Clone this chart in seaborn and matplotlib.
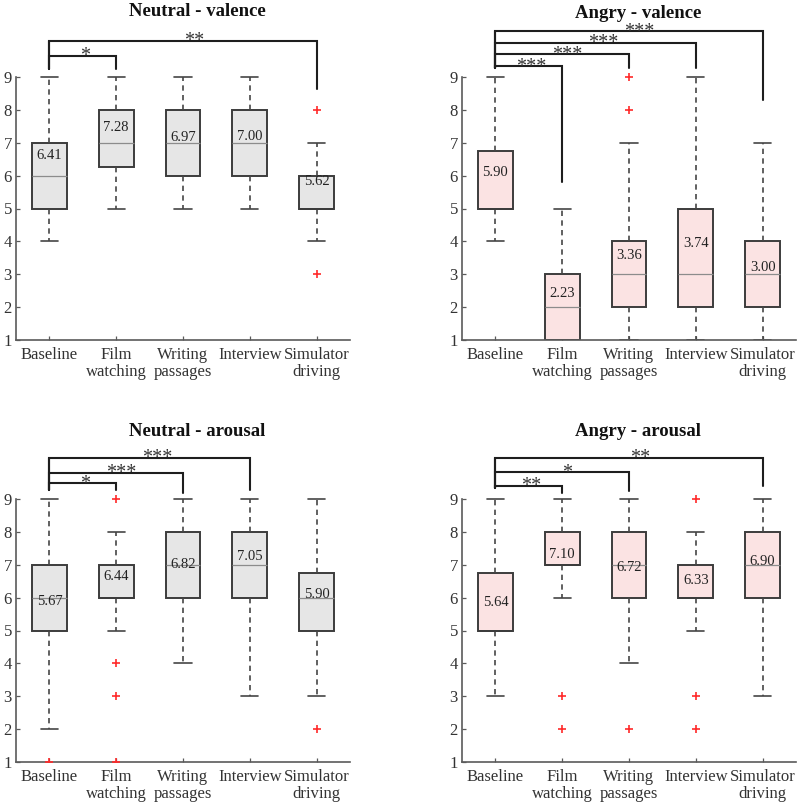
import numpy as np
import pandas as pd
import matplotlib
matplotlib.use("Agg")
import matplotlib.pyplot as plt
import seaborn as sns

# ---------------- data ----------------
categories = ["Baseline", "Film\nwatching", "Writing\npassages", "Interview", "Simulator\ndriving"]

# Neutral - valence
nv_lo = [4, 5, 5, 5, 4]
nv_q1 = [5, 6.25, 6, 6, 5]
nv_med = [6, 7, 7, 7, 5]
nv_q3 = [7, 8, 8, 8, 6]
nv_hi = [9, 9, 9, 9, 7]
nv_mean = [6.41, 7.28, 6.97, 7.00, 5.62]
nv_fliers = [[], [], [], [], [8, 3]]

# Angry - valence
av_lo = [4, 1, 1, 1, 1]
av_q1 = [5, 1, 2, 2, 2]
av_med = [5, 2, 3, 3, 3]
av_q3 = [6.75, 3, 4, 5, 4]
av_hi = [9, 5, 7, 9, 7]
av_mean = [5.90, 2.23, 3.36, 3.74, 3.00]
av_fliers = [[], [], [9, 8], [], []]

# Neutral - arousal
na_lo = [2, 5, 4, 3, 3]
na_q1 = [5, 6, 6, 6, 5]
na_med = [6, 6, 7, 7, 6]
na_q3 = [7, 7, 8, 8, 6.75]
na_hi = [9, 8, 9, 9, 9]
na_mean = [5.67, 6.44, 6.82, 7.05, 5.90]
na_fliers = [[1], [9, 4, 3, 1], [], [], [2]]

# Angry - arousal
aa_lo = [3, 6, 4, 5, 3]
aa_q1 = [5, 7, 6, 6, 6]
aa_med = [5, 7, 7, 6, 7]
aa_q3 = [6.75, 8, 8, 7, 8]
aa_hi = [9, 9, 9, 8, 9]
aa_mean = [5.64, 7.10, 6.72, 6.33, 6.90]
aa_fliers = [[], [3, 2], [2], [9, 3, 2], []]

# significance comparisons (Baseline vs target)
nv_sig_target = [1, 4]
nv_sig_label = ["*", "**"]
av_sig_target = [1, 2, 3, 4]
av_sig_label = ["***", "***", "***", "***"]
na_sig_target = [1, 2, 3]
na_sig_label = ["*", "***", "***"]
aa_sig_target = [1, 2, 4]
aa_sig_label = ["**", "*", "**"]

# ---------------- layout / style ----------------
sns.set_theme(style="ticks")
plt.rcParams["font.family"] = ["Liberation Serif", "DejaVu Serif"]

W, H = 800, 806
fig = plt.figure(figsize=(W / 100, H / 100), dpi=100)

GRAY_FILL = "#e6e6e6"
PINK_FILL = "#fbe3e3"
EDGE = "#3c3c3c"

panels = [
    dict(title="Neutral - valence", lo=nv_lo, q1=nv_q1, med=nv_med, q3=nv_q3, hi=nv_hi,
         mean=nv_mean, fliers=nv_fliers, tgt=nv_sig_target, lab=nv_sig_label,
         fill=GRAY_FILL, left=16, y1=340, title_xy=(197, 12),
         bh=[9.65, 10.10], rleg=[9.24, 8.64], lleg=9.24),
    dict(title="Angry - valence", lo=av_lo, q1=av_q1, med=av_med, q3=av_q3, hi=av_hi,
         mean=av_mean, fliers=av_fliers, tgt=av_sig_target, lab=av_sig_label,
         fill=PINK_FILL, left=462, y1=340, title_xy=(638, 13),
         bh=[9.33, 9.70, 10.04, 10.40], rleg=[5.82, 9.28, 9.28, 8.30], lleg=9.28),
    dict(title="Neutral - arousal", lo=na_lo, q1=na_q1, med=na_med, q3=na_q3, hi=na_hi,
         mean=na_mean, fliers=na_fliers, tgt=na_sig_target, lab=na_sig_label,
         fill=GRAY_FILL, left=16, y1=762, title_xy=(197, 431),
         bh=[9.48, 9.80, 10.25], rleg=[9.27, 9.18, 9.26], lleg=9.27),
    dict(title="Angry - arousal", lo=aa_lo, q1=aa_q1, med=aa_med, q3=aa_q3, hi=aa_hi,
         mean=aa_mean, fliers=aa_fliers, tgt=aa_sig_target, lab=aa_sig_label,
         fill=PINK_FILL, left=462, y1=762, title_xy=(638, 432),
         bh=[9.40, 9.82, 10.26], rleg=[9.19, 9.24, 9.40], lleg=9.33),
]

PX_PER_UNIT = 32.875
YTOP = 10.6
AX_W_PX = 334

for p in panels:
    ax_h_px = (YTOP - 1) * PX_PER_UNIT
    ax = fig.add_axes([p["left"] / W, (H - p["y1"]) / H, AX_W_PX / W, ax_h_px / H])

    # table of box summaries for seaborn
    rows = []
    for c, lo, q1, md, q3, hi in zip(categories, p["lo"], p["q1"], p["med"], p["q3"], p["hi"]):
        for v in (lo, q1, md, q3, hi):
            rows.append((c, v))
    df = pd.DataFrame(rows, columns=["condition", "value"])

    sns.boxplot(data=df, x="condition", y="value", order=categories, ax=ax,
                width=0.52, whis=(0, 100), showfliers=False,
                color=p["fill"], saturation=1, linecolor=EDGE, linewidth=1.4,
                medianprops=dict(color="#8c8c8c", linewidth=0.9),
                whiskerprops=dict(color="#454545", linewidth=1.2, linestyle=(0, (3.2, 2.6))),
                capprops=dict(color="#454545", linewidth=1.2))

    # medians lying on a box edge keep the dark edge colour
    for cont in ax.containers:
        meds = getattr(cont, "medians", None)
        if meds is None:
            continue
        for line, q1, md, q3 in zip(meds, p["q1"], p["med"], p["q3"]):
            if md == q1 or md == q3:
                line.set_color(EDGE)
                line.set_linewidth(1.4)

    frows = [(c, v) for c, fl in zip(categories, p["fliers"]) for v in fl]
    if frows:
        fdf = pd.DataFrame(frows, columns=["condition", "value"])
        sns.stripplot(data=fdf, x="condition", y="value", order=categories, ax=ax,
                      jitter=False, marker="+", color="#ff2a2a", size=6, linewidth=1.2,
                      zorder=5)

    # mean labels
    for i, m in enumerate(p["mean"]):
        ax.text(i, m, f"{m:.2f}", ha="center", va="bottom", fontsize=10.5,
                color="#222222", zorder=6)

    # significance brackets
    for t, lab, h, rl in zip(p["tgt"], p["lab"], p["bh"], p["rleg"]):
        ax.plot([0, 0, t, t], [p["lleg"], h, h, rl], color="#1e1e1e", lw=1.5,
                solid_joinstyle="miter", clip_on=False, zorder=4)
        ax.text(t / 2 + 0.04 * t, h - 0.17, lab, ha="center", va="baseline",
                fontsize=14.5, color="#333333", clip_on=False, zorder=6)
    top_h = max(p["bh"])
    ax.plot([0, 0], [p["lleg"], top_h], color="#1e1e1e", lw=1.5, clip_on=False)

    ax.set_xlim(-0.5, 4.5)
    ax.set_ylim(1, YTOP)
    ax.set_yticks(range(1, 10))
    ax.set_xlabel("")
    ax.set_ylabel("")
    for s in ("top", "right"):
        ax.spines[s].set_visible(False)
    ax.spines["left"].set_bounds(1, 9)
    for s in ("left", "bottom"):
        ax.spines[s].set_color("#5a5a5a")
        ax.spines[s].set_linewidth(1.2)
    ax.tick_params(axis="both", direction="in", length=3, width=0.9, colors="#5a5a5a",
                   labelcolor="#333333", labelsize=12)
    ax.tick_params(axis="x", pad=5)
    ax.tick_params(axis="y", pad=3)
    for lbl in ax.get_xticklabels():
        lbl.set_linespacing(1.05)
    ax.patch.set_alpha(0)

    fig.text(p["title_xy"][0] / W, 1 - p["title_xy"][1] / H, p["title"],
             ha="center", va="center", fontsize=13.5, fontweight="bold", color="#111111")

fig.savefig("out.png", dpi=100)
